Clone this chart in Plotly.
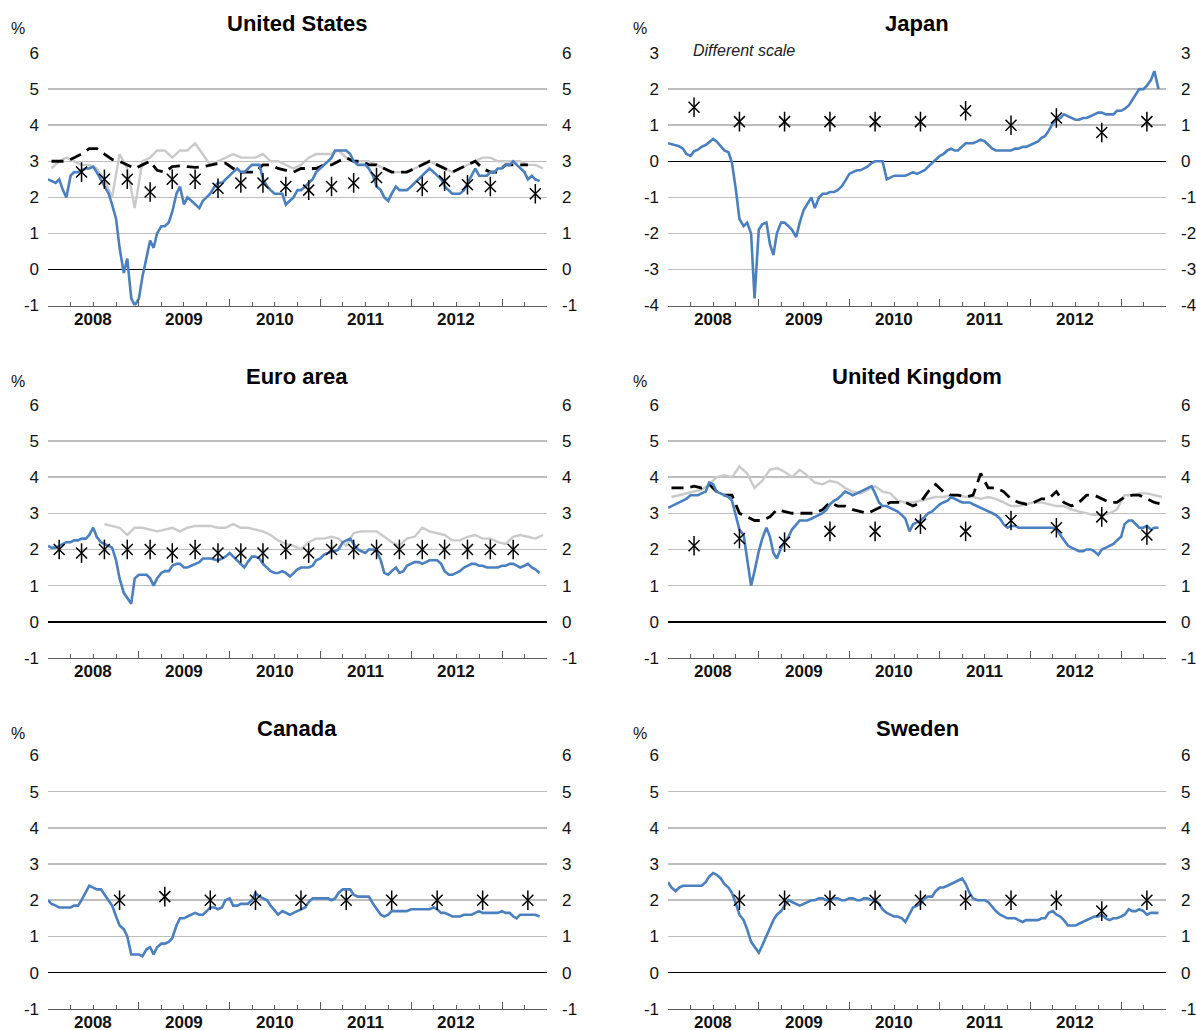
import pandas as pd
import plotly.graph_objects as go

# ---------------- data ----------------
SEMI_MONTHLY = pd.date_range("2008-01-01", periods=131, freq="SMS")
MONTHLY = pd.date_range("2008-01-01", periods=66, freq="MS") + pd.Timedelta(days=14)
Q_FEB = pd.date_range("2008-02-01", periods=21, freq="3MS") + pd.Timedelta(days=14)
Q_MAY = pd.date_range("2008-05-01", periods=21, freq="3MS") + pd.Timedelta(days=14)
H_APR = pd.date_range("2008-04-01", periods=11, freq="6MS") + pd.Timedelta(days=14)
H_OCT = pd.date_range("2008-10-01", periods=10, freq="6MS") + pd.Timedelta(days=14)

YEARS = [2008, 2009, 2010, 2011, 2012]
TITLES = ["United States", "Japan", "Euro area", "United Kingdom", "Canada", "Sweden"]

US_BLUE = [2.5, 2.45, 2.4, 2.5, 2.2, 2.0, 2.6, 2.7, 2.7, 2.75, 2.8, 2.8,
           2.85, 2.7, 2.5, 2.3, 2.1, 1.8, 1.4, 0.6, -0.1, 0.3, -0.8, -1.0,
           -0.8, -0.2, 0.4, 0.8, 0.6, 1.0, 1.2, 1.2, 1.3, 1.6, 2.1, 2.3,
           1.8, 2.0, 1.9, 1.8, 1.7, 1.9, 2.0, 2.1, 2.3, 2.4, 2.4, 2.5,
           2.6, 2.7, 2.8, 2.7, 2.7, 2.8, 2.9, 2.9, 2.9, 2.5, 2.3, 2.2,
           2.1, 2.1, 2.1, 1.8, 1.9, 2.0, 2.2, 2.2, 2.3, 2.4, 2.5, 2.7,
           2.8, 2.9, 3.0, 3.1, 3.3, 3.3, 3.3, 3.3, 3.2, 3.0, 2.9, 2.9,
           2.9, 2.8, 2.6, 2.3, 2.2, 2.0, 1.9, 2.1, 2.3, 2.2, 2.2, 2.2,
           2.3, 2.4, 2.5, 2.6, 2.7, 2.8, 2.7, 2.6, 2.5, 2.3, 2.2, 2.1,
           2.1, 2.1, 2.2, 2.4, 2.6, 2.8, 2.6, 2.6, 2.6, 2.7, 2.7, 2.8,
           2.8, 2.9, 2.9, 3.0, 2.9, 2.8, 2.7, 2.5, 2.6, 2.5, 2.45]
US_GREY = [2.8, 3.0, 3.1, 3.0, 2.9, 2.9, 2.8, 2.5, 2.0, 3.2, 2.8, 1.7,
           3.0, 3.1, 3.3, 3.3, 3.1, 3.3, 3.3, 3.5, 3.2, 2.9, 3.0, 3.1,
           3.2, 3.1, 3.1, 3.1, 3.2, 3.0, 3.0, 2.9, 2.8, 2.9, 3.1, 3.2,
           3.2, 3.2, 3.3, 3.1, 3.0, 3.0, 3.0, 2.9, 2.8, 2.7, 2.7, 2.7,
           2.8, 2.9, 3.0, 2.9, 2.8, 2.7, 2.8, 2.9, 3.0, 3.1, 3.1, 3.0,
           3.0, 3.0, 3.0, 2.9, 2.9, 2.8]
US_DASH = [3.0, 3.0, 3.0, 3.1, 3.2, 3.35, 3.35, 3.2, 3.05, 3.0, 2.9, 2.8,
           2.9, 3.0, 2.75, 2.7, 2.85, 2.87, 2.85, 2.83, 2.85, 2.9, 2.94, 2.95,
           2.8, 2.7, 2.7, 2.7, 2.9, 2.9, 2.8, 2.75, 2.7, 2.8, 2.8, 2.8,
           2.9, 2.9, 3.0, 3.1, 3.0, 3.0, 2.9, 2.9, 2.8, 2.7, 2.7, 2.7,
           2.8, 2.9, 3.0, 2.9, 2.8, 2.7, 2.8, 2.9, 3.0, 2.8, 2.7, 2.7,
           2.9, 2.9, 2.9, 2.9]
US_STARS = [2.7, 2.5, 2.5, 2.15, 2.5, 2.5, 2.25, 2.4, 2.4, 2.3, 2.2, 2.3,
            2.4, 2.55, None, 2.3, 2.45, 2.35, 2.3, None, 2.1]

JP_BLUE = [0.5, 0.47, 0.45, 0.42, 0.35, 0.2, 0.15, 0.28, 0.32, 0.4, 0.45, 0.52,
           0.62, 0.55, 0.4, 0.3, 0.25, -0.05, -0.8, -1.6, -1.8, -1.7, -2.0, -3.8,
           -1.9, -1.75, -1.7, -2.3, -2.6, -2.0, -1.7, -1.7, -1.8, -1.9, -2.1, -1.7,
           -1.35, -1.2, -1.0, -1.3, -1.0, -0.9, -0.9, -0.85, -0.85, -0.8, -0.7, -0.55,
           -0.35, -0.3, -0.25, -0.25, -0.2, -0.15, -0.05, 0.0, 0.0, 0.0, -0.5, -0.45,
           -0.4, -0.4, -0.4, -0.4, -0.35, -0.3, -0.35, -0.3, -0.25, -0.15, -0.05, 0.05,
           0.15, 0.2, 0.3, 0.35, 0.3, 0.3, 0.4, 0.5, 0.5, 0.5, 0.55, 0.6,
           0.55, 0.45, 0.35, 0.3, 0.3, 0.3, 0.3, 0.3, 0.35, 0.35, 0.4, 0.4,
           0.45, 0.5, 0.55, 0.65, 0.7, 0.85, 1.05, 1.15, 1.2, 1.3, 1.25, 1.2,
           1.15, 1.15, 1.2, 1.2, 1.25, 1.3, 1.35, 1.35, 1.3, 1.3, 1.3, 1.4,
           1.4, 1.45, 1.55, 1.7, 1.85, 2.0, 2.0, 2.1, 2.25, 2.5, 2.0]
JP_STARS = [1.5, 1.1, 1.1, 1.1, 1.1, 1.1, 1.4, 1.0, 1.2, 0.8, 1.1]

EA_BLUE = [2.1, 2.05, 2.05, 2.1, 2.15, 2.2, 2.2, 2.25, 2.25, 2.3, 2.3, 2.4,
           2.6, 2.35, 2.2, 2.15, 2.1, 2.05, 1.7, 1.2, 0.8, 0.65, 0.5, 1.2,
           1.3, 1.3, 1.3, 1.2, 1.0, 1.2, 1.35, 1.4, 1.4, 1.55, 1.6, 1.6,
           1.5, 1.5, 1.55, 1.6, 1.65, 1.75, 1.75, 1.75, 1.72, 1.7, 1.75, 1.8,
           1.9, 1.8, 1.7, 1.6, 1.5, 1.65, 1.8, 1.8, 1.75, 1.6, 1.5, 1.4,
           1.35, 1.35, 1.4, 1.35, 1.25, 1.35, 1.45, 1.5, 1.5, 1.5, 1.55, 1.7,
           1.75, 1.85, 1.9, 1.95, 1.95, 2.0, 2.2, 2.25, 2.3, 2.15, 2.0, 1.95,
           1.9, 2.0, 2.0, 1.95, 1.7, 1.35, 1.3, 1.4, 1.5, 1.35, 1.4, 1.55,
           1.6, 1.65, 1.65, 1.6, 1.65, 1.7, 1.7, 1.7, 1.6, 1.4, 1.3, 1.3,
           1.35, 1.4, 1.5, 1.55, 1.6, 1.6, 1.55, 1.55, 1.5, 1.5, 1.5, 1.5,
           1.55, 1.55, 1.6, 1.6, 1.55, 1.5, 1.55, 1.6, 1.5, 1.45, 1.35]
EA_GREY = [None, None, None, None, None, None, None, 2.7, 2.65, 2.6, 2.4, 2.6,
           2.6, 2.55, 2.5, 2.55, 2.6, 2.5, 2.6, 2.65, 2.65, 2.65, 2.6, 2.6,
           2.7, 2.6, 2.6, 2.55, 2.5, 2.4, 2.25, 2.15, 2.1, 2.0, 2.2, 2.3,
           2.3, 2.35, 2.3, 2.1, 2.45, 2.5, 2.5, 2.5, 2.35, 2.2, 2.1, 2.3,
           2.35, 2.6, 2.5, 2.45, 2.4, 2.25, 2.25, 2.35, 2.4, 2.3, 2.3, 2.2,
           2.15, 2.35, 2.4, 2.35, 2.3, 2.4]
EA_STARS = [2.0, 1.9, 2.0, 2.0, 2.0, 1.9, 2.0, 1.9, 1.9, 1.9, 2.0, 1.9,
            2.0, 2.0, 2.0, 2.0, 2.0, 2.0, 2.0, 2.0, 2.0]

UK_BLUE = [3.15, 3.2, 3.25, 3.3, 3.35, 3.4, 3.5, 3.5, 3.5, 3.55, 3.6, 3.85,
           3.8, 3.6, 3.55, 3.5, 3.45, 3.35, 2.9, 2.55, 2.4, 1.8, 1.0, 1.4,
           1.95, 2.3, 2.6, 2.35, 1.9, 1.75, 2.05, 2.2, 2.35, 2.55, 2.7, 2.8,
           2.8, 2.8, 2.85, 2.9, 2.95, 3.0, 3.1, 3.25, 3.35, 3.4, 3.5, 3.6,
           3.55, 3.5, 3.55, 3.6, 3.65, 3.7, 3.75, 3.55, 3.3, 3.2, 3.2, 3.15,
           3.1, 3.05, 2.95, 2.85, 2.5, 2.7, 2.75, 2.8, 2.9, 3.0, 3.05, 3.15,
           3.25, 3.3, 3.35, 3.45, 3.4, 3.35, 3.3, 3.3, 3.3, 3.25, 3.2, 3.15,
           3.1, 3.05, 3.0, 2.95, 2.85, 2.7, 2.6, 2.65, 2.65, 2.6, 2.6, 2.6,
           2.6, 2.6, 2.6, 2.6, 2.6, 2.6, 2.6, 2.55, 2.4, 2.25, 2.1, 2.05,
           2.0, 1.95, 1.95, 2.0, 2.0, 1.95, 1.85, 2.0, 2.05, 2.1, 2.15, 2.25,
           2.35, 2.7, 2.8, 2.8, 2.7, 2.6, 2.6, 2.65, 2.55, 2.6, 2.6]
UK_GREY = [3.45, 3.5, 3.55, 3.6, 3.65, 3.8, 4.0, 4.05, 4.0, 4.3, 4.1, 3.7,
           3.9, 4.2, 4.25, 4.15, 4.0, 4.2, 4.05, 3.85, 3.8, 3.9, 3.85, 3.7,
           3.6, 3.55, 3.65, 3.75, 3.6, 3.55, 3.35, 3.3, 3.3, 3.35, 3.4, 3.45,
           3.45, 3.5, 3.5, 3.45, 3.45, 3.4, 3.45, 3.4, 3.3, 3.2, 3.2, 3.25,
           3.3, 3.3, 3.25, 3.2, 3.2, 3.1, 3.05, 3.0, 2.95, 2.95, 3.0, 3.1,
           3.5, 3.5, 3.55, 3.55, 3.5, 3.45]
UK_DASH = [3.7, 3.7, 3.7, 3.75, 3.7, 3.8, 3.6, 3.5, 3.5, 3.0, 2.9, 2.8,
           2.8, 2.9, 3.1, 3.05, 3.0, 3.0, 3.0, 3.0, 3.1, 3.3, 3.2, 3.2,
           3.1, 3.05, 3.0, 3.1, 3.2, 3.3, 3.3, 3.3, 3.2, 3.3, 3.6, 3.8,
           3.6, 3.5, 3.5, 3.45, 3.5, 4.1, 3.7, 3.7, 3.6, 3.4, 3.3, 3.25,
           3.3, 3.4, 3.4, 3.6, 3.3, 3.2, 3.3, 3.5, 3.5, 3.4, 3.3, 3.3,
           3.45, 3.5, 3.5, 3.4, 3.3, 3.25]
UK_STARS = [2.1, 2.3, 2.2, 2.5, 2.5, 2.7, 2.5, 2.8, 2.6, 2.9, 2.4]

CA_BLUE = [2.0, 1.9, 1.85, 1.8, 1.8, 1.8, 1.8, 1.85, 1.85, 2.0, 2.2, 2.4,
           2.35, 2.3, 2.3, 2.15, 2.0, 1.85, 1.55, 1.3, 1.2, 1.0, 0.5, 0.5,
           0.5, 0.45, 0.65, 0.7, 0.5, 0.7, 0.8, 0.8, 0.85, 0.95, 1.3, 1.5,
           1.5, 1.55, 1.6, 1.65, 1.6, 1.6, 1.7, 1.8, 1.8, 1.75, 1.8, 2.0,
           2.05, 1.85, 1.85, 1.9, 1.9, 1.9, 2.0, 2.2, 2.1, 2.05, 2.0, 1.85,
           1.7, 1.6, 1.7, 1.65, 1.6, 1.65, 1.7, 1.75, 1.8, 1.95, 2.05, 2.05,
           2.05, 2.05, 2.05, 2.0, 2.05, 2.2, 2.3, 2.3, 2.3, 2.15, 2.1, 2.1,
           2.1, 2.1, 1.9, 1.75, 1.6, 1.55, 1.6, 1.7, 1.7, 1.7, 1.7, 1.7,
           1.75, 1.75, 1.75, 1.75, 1.75, 1.75, 1.8, 1.75, 1.65, 1.65, 1.6, 1.55,
           1.55, 1.55, 1.6, 1.6, 1.6, 1.65, 1.7, 1.65, 1.65, 1.65, 1.65, 1.65,
           1.7, 1.65, 1.65, 1.55, 1.5, 1.6, 1.6, 1.6, 1.6, 1.6, 1.55]
CA_STARS = [2.0, 2.1, 2.0, 2.0, 2.0, 2.0, 2.0, 2.0, 2.0, 2.0]

SE_BLUE = [2.5, 2.35, 2.25, 2.35, 2.4, 2.4, 2.4, 2.4, 2.4, 2.4, 2.5, 2.65,
           2.75, 2.7, 2.6, 2.45, 2.35, 2.2, 1.9, 1.6, 1.45, 1.2, 0.85, 0.7,
           0.55, 0.75, 1.0, 1.25, 1.45, 1.6, 1.7, 1.85, 2.0, 1.95, 1.9, 1.85,
           1.9, 1.95, 2.0, 2.0, 2.05, 2.05, 2.0, 2.0, 2.05, 2.05, 2.0, 2.0,
           2.05, 2.05, 2.0, 2.0, 2.05, 2.05, 2.0, 2.0, 1.9, 1.75, 1.65, 1.6,
           1.55, 1.55, 1.5, 1.4, 1.6, 1.8, 1.85, 1.9, 2.05, 2.1, 2.1, 2.25,
           2.35, 2.35, 2.4, 2.45, 2.5, 2.55, 2.6, 2.45, 2.2, 2.05, 2.0, 2.0,
           2.0, 1.95, 1.8, 1.7, 1.6, 1.55, 1.5, 1.5, 1.5, 1.45, 1.4, 1.45,
           1.45, 1.45, 1.45, 1.5, 1.5, 1.65, 1.7, 1.6, 1.55, 1.45, 1.3, 1.3,
           1.3, 1.35, 1.4, 1.45, 1.5, 1.55, 1.55, 1.6, 1.5, 1.45, 1.5, 1.5,
           1.55, 1.6, 1.75, 1.7, 1.7, 1.75, 1.7, 1.6, 1.65, 1.65, 1.65]
SE_STARS = [2.0, 2.0, 2.0, 2.0, 2.0, 2.0, 2.0, 2.0, 1.7, 2.0]

PANELS = [
    dict(blue=US_BLUE, grey=US_GREY, dash=US_DASH, sx=Q_MAY, sy=US_STARS, yr=(-1, 6)),
    dict(blue=JP_BLUE, grey=None, dash=None, sx=H_APR, sy=JP_STARS, yr=(-4, 3)),
    dict(blue=EA_BLUE, grey=EA_GREY, dash=None, sx=Q_FEB, sy=EA_STARS, yr=(-1, 6)),
    dict(blue=UK_BLUE, grey=UK_GREY, dash=UK_DASH, sx=H_APR, sy=UK_STARS, yr=(-1, 6)),
    dict(blue=CA_BLUE, grey=None, dash=None, sx=H_OCT, sy=CA_STARS, yr=(-1, 6)),
    dict(blue=SE_BLUE, grey=None, dash=None, sx=H_OCT, sy=SE_STARS, yr=(-1, 6)),
]

# ---------------- styling / layout ----------------
W, H = 1196, 1040
FONT = "Liberation Sans, Arial, sans-serif"
BLUE = "#4a7fc0"
GREY = "#cacaca"
GRID = "#bdbdbd"
AXIS = "#5a5a5a"
# target positions in screenshot pixels
COLS = [(48, 547), (668, 1166)]
ROWS = [(52.5, 305), (404.3, 657.5), (755, 1008.5)]
TITLE_Y = [23, 376, 728]
PCT_X = [18, 640]


def px(v):
    return v / W


def py(v):
    # calibrated: screenshot y = 8.4 + 0.982 * page y
    return 1 - ((v - 8.4) / 0.982) / H


year_starts = [f"{y}-01-01" for y in range(2008, 2014)]
quarters = [d.strftime("%Y-%m-%d") for d in pd.date_range("2008-04-01", "2013-07-01", freq="3MS")
            if d.month != 1]

fig = go.Figure()
layout = dict(width=W, height=H, margin=dict(l=0, r=0, t=0, b=0),
              paper_bgcolor="white", plot_bgcolor="white", showlegend=False,
              font=dict(family=FONT, color="#000000", size=17))
annotations = []

for i, p in enumerate(PANELS):
    n = i + 1
    r, c = divmod(i, 2)
    x0, x1 = COLS[c]
    ytop, ybot = ROWS[r]
    xs = "" if n == 1 else str(n)
    xref, yref, yref_r = f"x{xs}", f"y{xs}", f"y{n + 6}"
    ymin, ymax = p["yr"]
    ticks = list(range(ymin, ymax + 1))
    labels = [str(t) for t in ticks]

    layout[f"xaxis{xs}"] = dict(
        domain=[px(x0), px(x1)], anchor=yref, type="date",
        range=["2008-01-01", "2013-07-01"], showgrid=False, zeroline=False,
        showline=True, linecolor=AXIS, linewidth=1,
        tickmode="array", tickvals=year_starts, ticks="inside", ticklen=7,
        tickwidth=1, tickcolor=AXIS, showticklabels=False,
        minor=dict(tickmode="array", tickvals=quarters, ticks="inside", ticklen=4,
                   tickwidth=1, tickcolor=AXIS, showgrid=False),
        fixedrange=True)
    layout[f"yaxis{xs}"] = dict(
        domain=[py(ybot), py(ytop)], anchor=xref, range=[ymin, ymax],
        tickmode="array", tickvals=ticks, ticktext=labels, ticks="", showline=False,
        showgrid=True, gridcolor=GRID, gridwidth=1.5,
        zeroline=True, zerolinecolor="#000000", zerolinewidth=1.5,
        tickfont=dict(size=17, color="#111111"), ticklabelstandoff=8, fixedrange=True)
    layout[f"yaxis{n + 6}"] = dict(
        overlaying=yref, side="right", anchor=xref, range=[ymin, ymax],
        tickmode="array", tickvals=ticks, ticktext=labels, ticks="", showline=False,
        showgrid=False, zeroline=False,
        tickfont=dict(size=17, color="#111111"), ticklabelstandoff=14, fixedrange=True)

    if p["grey"] is not None:
        fig.add_trace(go.Scatter(x=MONTHLY, y=p["grey"], mode="lines", xaxis=xref, yaxis=yref,
                                 line=dict(color=GREY, width=2.4), connectgaps=False))
    if p["dash"] is not None:
        fig.add_trace(go.Scatter(x=MONTHLY[:len(p["dash"])], y=p["dash"], mode="lines",
                                 xaxis=xref, yaxis=yref,
                                 line=dict(color="#000000", width=2.8, dash="12px,7px")))
    fig.add_trace(go.Scatter(x=SEMI_MONTHLY, y=p["blue"], mode="lines", xaxis=xref, yaxis=yref,
                             line=dict(color=BLUE, width=2.6)))
    fig.add_trace(go.Scatter(x=p["sx"], y=p["sy"], mode="markers", xaxis=xref, yaxis=yref,
                             marker=dict(symbol="x-thin-open", size=11, color="#000000",
                                         line=dict(width=1.5, color="#000000"))))
    fig.add_trace(go.Scatter(x=p["sx"], y=p["sy"], mode="markers", xaxis=xref, yaxis=yref,
                             marker=dict(symbol="line-ns-open", size=14, color="#000000",
                                         line=dict(width=1.5, color="#000000"))))
    # empty trace so that the right-hand (mirror) axis is drawn
    fig.add_trace(go.Scatter(x=[None], y=[None], mode="markers", xaxis=xref, yaxis=yref_r,
                             hoverinfo="skip"))

    annotations.append(dict(text=f"<b>{TITLES[i]}</b>", xref="paper", yref="paper",
                            x=(px(x0) + px(x1)) / 2, y=py(TITLE_Y[r]), showarrow=False,
                            xanchor="center", yanchor="middle", font=dict(size=22, color="#000")))
    annotations.append(dict(text="%", xref="paper", yref="paper",
                            x=px(PCT_X[c]), y=py(TITLE_Y[r] + 5), showarrow=False,
                            xanchor="center", yanchor="middle", font=dict(size=16, color="#111")))
    for yv in YEARS:
        annotations.append(dict(text=f"<b>{yv}</b>", xref=xref, yref="paper",
                                x=f"{yv}-07-01", y=py(ybot + 14), showarrow=False,
                                xanchor="center", yanchor="middle", font=dict(size=17, color="#111")))

annotations.append(dict(text="<i>Different scale</i>", xref="paper", yref="paper",
                        x=px(691), y=py(50), showarrow=False, xanchor="left",
                        yanchor="middle", font=dict(size=16, color="#222")))
layout["annotations"] = annotations
fig.update_layout(**layout)
# remove the default page margin so the figure sits exactly in the window
fig.write_html("out.html", config={"displayModeBar": False, "staticPlot": True},
               post_script="document.body.style.margin='0';document.body.style.overflow='hidden';")
